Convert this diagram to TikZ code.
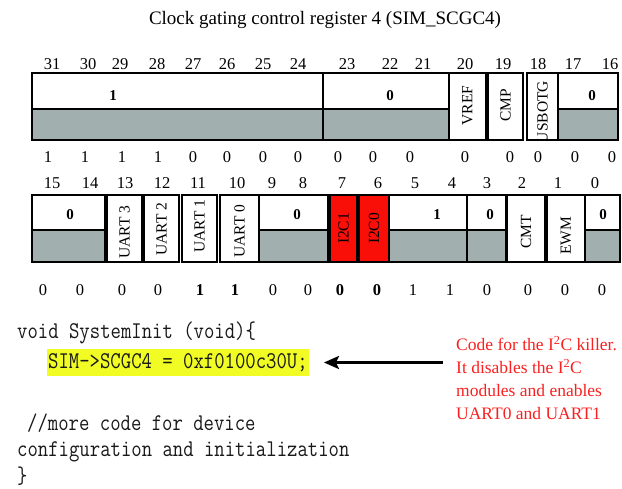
\documentclass[tikz,border=0pt]{standalone}
\usepackage{fontspec}
\setmainfont{Liberation Serif}
\setmonofont{Latin Modern Mono}[FakeStretch=0.84]
\usetikzlibrary{arrows.meta}

\definecolor{resgray}{RGB}{161,176,174}
\definecolor{i2cred}{RGB}{250,14,8}
\definecolor{notered}{RGB}{250,32,32}
\definecolor{hlyellow}{RGB}{240,252,36}
\definecolor{codeink}{RGB}{25,25,25}

% reserved field: white upper half with its value, grey lower half
\newcommand\resfield[5]{%
  \fill[resgray] (#1,#4) rectangle (#2,#5);
  \draw[box] (#1,#3) rectangle (#2,#5);
  \draw[box] (#1,#4) -- (#2,#4);
}
% single-bit field: one box over the full height
\newcommand\bitbox[5]{%
  \draw[box,fill=#5] (#1,#3) rectangle (#2,#4);
}

\begin{document}
\begin{tikzpicture}[x=1pt,y=-1pt,
  box/.style={draw=black,line width=2.2pt},
  bitnum/.style={font=\fontsize{16.5}{17}\selectfont,inner sep=0},
  bitval/.style={font=\fontsize{16.5}{17}\selectfont,inner sep=0},
  fieldval/.style={font=\fontsize{15}{16}\selectfont\bfseries,inner sep=0},
  vlabel/.style={font=\fontsize{15.5}{16}\selectfont,rotate=90,inner sep=0},
  code/.style={font=\fontsize{24}{26}\selectfont\ttfamily,text=codeink,anchor=west,inner sep=0},
]
\useasboundingbox (0,0) rectangle (622,489);

\node[font=\fontsize{19}{21}\selectfont] (title) at (325,20)
  {Clock gating control register 4 (SIM\_SCGC4)};

% ---------------- bits 31..16 ----------------
\foreach \b/\x in {31/52,30/88,29/120,28/157,27/193,26/227,25/263,24/298,
                   23/347,22/390,21/423,20/465,19/503,18/538,17/573,16/610}
  \node[bitnum] (n\b) at (\x,64) {\b};

\resfield{32}{323}{73}{109}{140}
\resfield{323}{449}{73}{109}{140}
\bitbox{449}{486}{73}{140}{white}
\bitbox{488}{523}{73}{140}{white}
\resfield{558}{618}{73}{109}{140}

\node[fieldval] (f3124) at (113,96) {1};
\node[fieldval] (f2321) at (390,96) {0};
\node[fieldval] (f1716) at (592,96) {0};
\node[vlabel] (vref) at (467.5,105.5) {VREF};
\node[vlabel] (cmp) at (505.5,105.5) {CMP};
\begin{scope}
  \clip (527,73) rectangle (558,140);
  \fill[white] (527,73) rectangle (558,140);
  \node[vlabel] (usbotg) at (542.5,112) {USBOTG};
\end{scope}
\draw[box] (527,73) rectangle (558,140);

\foreach \b/\x/\v in {31/48/1,30/85/1,29/122/1,28/158/1,27/193/0,26/227/0,25/263/0,24/298/0,
                      23/338/0,22/373/0,21/410/0,20/465/0,19/510/0,18/538/0,17/575/0,16/612/0}
  \node[bitval] (v\b) at (\x,157) {\v};

% ---------------- bits 15..0 ----------------
\foreach \b/\x in {15/52,14/90,13/125,12/162,11/198,10/237,9/272,8/303,
                   7/342,6/378,5/415,4/452,3/487,2/522,1/558,0/595}
  \node[bitnum] (n\b) at (\x,183) {\b};

\resfield{32}{105}{195}{230}{262}
\bitbox{107}{142}{195}{262}{white}
\bitbox{144}{179}{195}{262}{white}
\bitbox{182}{217}{195}{262}{white}
\bitbox{220}{259}{195}{262}{white}
\resfield{259}{328}{195}{230}{262}
\bitbox{330}{357}{195}{262}{i2cred}
\bitbox{359}{389}{195}{262}{i2cred}
\resfield{389}{467}{195}{230}{262}
\resfield{467}{506}{195}{230}{262}
\bitbox{507}{545}{195}{262}{white}
\bitbox{547}{585}{195}{262}{white}
\resfield{585}{620}{195}{230}{262}

\node[fieldval] (f1514) at (70,215) {0};
\node[fieldval] (f0908) at (297,215) {0};
\node[fieldval] (f0504) at (437,215) {1};
\node[fieldval] (f03) at (490,215) {0};
\node[fieldval] (f00) at (603,215) {0};
\node[vlabel] (uart3) at (124.5,232) {UART 3};
\node[vlabel] (uart2) at (161.5,229) {UART 2};
\node[vlabel] (uart1) at (199.5,226) {UART 1};
\node[vlabel] (uart0) at (239.5,231) {UART 0};
\node[vlabel] (i2c1) at (343.5,228.5) {I2C1};
\node[vlabel] (i2c0) at (374,228.5) {I2C0};
\node[vlabel] (cmt) at (526,232) {CMT};
\node[vlabel] (ewm) at (566,236) {EWM};

\foreach \b/\x/\v in {15/43/0,14/80/0,13/122/0,12/158/0,9/273/0,8/308/0,
                      5/413/1,4/450/1,3/487/0,2/528/0,1/565/0,0/602/0}
  \node[bitval] (v\b) at (\x,290) {\v};
\foreach \b/\x/\v in {11/200/1,10/235/1,7/340/0,6/377/0}
  \node[bitval,font=\fontsize{16.5}{17}\selectfont\bfseries] (v\b) at (\x,290) {\v};

% ---------------- code ----------------
\node[code] (l1) at (17,333) {void SystemInit (void)\{};
\node[code,fill=hlyellow,inner xsep=1pt,minimum height=27pt] (hl) at (47,362.5)
  {SIM->SCGC4 = 0xf0100c30U;};
\node[code] (l3) at (27,423) {//more code for device};
\node[code] (l4) at (17,452) {configuration and initialization};
\node[code] (l5) at (17,476) {\}};

\node[anchor=north west,align=left,inner sep=0,text=notered,
      font=\fontsize{17.5}{23}\selectfont] (note) at (456,336)
  {Code for the I\textsuperscript{2}C killer.\\
   It disables the I\textsuperscript{2}C\\
   modules and enables\\
   UART0 and UART1};

\draw[line width=2.6pt,-{Stealth[length=15pt,width=13pt,inset=3pt]},
      shorten <=13pt,shorten >=15pt]
  (note.west |- hl.east) -- (hl.east);
\end{tikzpicture}
\end{document}
